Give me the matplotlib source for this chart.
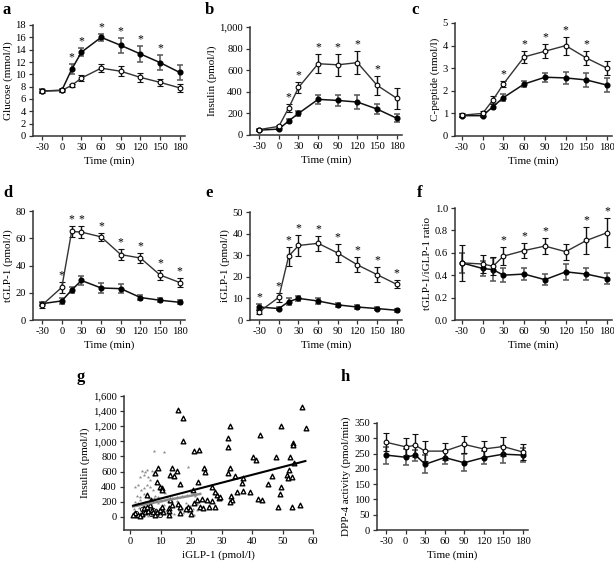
import matplotlib
matplotlib.use("Agg")
import matplotlib.pyplot as plt
from matplotlib.ticker import FuncFormatter

plt.rcParams["font.family"] = ["Liberation Serif", "DejaVu Serif"]
plt.rcParams["font.size"] = 7
plt.rcParams["axes.unicode_minus"] = False

times = [-30, 0, 15, 30, 60, 90, 120, 150, 180]
time_ticks = [-30, 0, 30, 60, 90, 120, 150, 180]

# a: glucose (mmol/l)
glu_filled = [7.3, 7.4, 10.8, 13.6, 16.0, 14.7, 13.3, 11.9, 10.3]
glu_filled_err = [0.3, 0.3, 0.8, 0.7, 0.6, 1.2, 1.3, 1.2, 1.2]
glu_open = [7.3, 7.4, 8.2, 9.4, 11.0, 10.5, 9.5, 8.7, 7.8]
glu_open_err = [0.3, 0.3, 0.3, 0.5, 0.6, 0.8, 0.7, 0.6, 0.6]
glu_stars = [15, 30, 60, 90, 120, 150]

# b: insulin (pmol/l)
ins_open = [50, 80, 250, 440, 660, 650, 670, 460, 340]
ins_open_err = [10, 15, 40, 50, 90, 100, 105, 90, 95]
ins_filled = [45, 55, 130, 200, 330, 320, 305, 240, 155]
ins_filled_err = [8, 10, 20, 20, 40, 50, 65, 50, 35]
ins_stars = [15, 30, 60, 90, 120, 150]

# c: C-peptide (nmol/l)
cp_open = [0.92, 1.0, 1.6, 2.3, 3.5, 3.75, 4.0, 3.45, 3.0]
cp_open_err = [0.08, 0.1, 0.18, 0.15, 0.25, 0.3, 0.4, 0.3, 0.3]
cp_filled = [0.9, 0.9, 1.3, 1.7, 2.3, 2.6, 2.57, 2.48, 2.25]
cp_filled_err = [0.07, 0.07, 0.12, 0.15, 0.12, 0.2, 0.28, 0.3, 0.3]
cp_stars = [30, 60, 90, 120, 150]

# d: tGLP-1 (pmol/l)
tglp_open = [11, 24, 65, 64.5, 61, 48, 45.5, 33, 27.5]
tglp_open_err = [2, 4, 4, 4.5, 3, 4, 4, 4, 3]
tglp_filled = [12, 14, 22, 29, 23.5, 23, 16.5, 14.5, 13]
tglp_filled_err = [1.5, 2, 2, 3, 4, 3.5, 2, 1.5, 1.5]
tglp_stars = [0, 15, 30, 60, 90, 120, 150, 180]

# e: iGLP-1 (pmol/l)
iglp_open = [3.8, 10.5, 29.5, 34.5, 35.5, 31, 25.5, 21, 16.5]
iglp_open_err = [1, 2, 4.5, 5, 3.5, 4, 3.5, 3.5, 1.8]
iglp_filled = [6, 5.3, 8.5, 10, 8.8, 7, 6, 5.3, 4.5]
iglp_filled_err = [1.5, 0.8, 1.5, 1, 1.5, 1, 1, 0.8, 0.8]
iglp_stars = [-30, 0, 15, 30, 60, 90, 120, 150, 180]

# f: tGLP-1/iGLP-1 ratio
ratio_open = [0.51, 0.50, 0.48, 0.57, 0.62, 0.66, 0.61, 0.71, 0.78]
ratio_open_err = [0.16, 0.08, 0.08, 0.08, 0.07, 0.07, 0.07, 0.12, 0.13]
ratio_filled = [0.51, 0.46, 0.45, 0.40, 0.41, 0.36, 0.43, 0.41, 0.37]
ratio_filled_err = [0.09, 0.07, 0.10, 0.06, 0.05, 0.05, 0.07, 0.05, 0.05]
ratio_stars = [30, 60, 90, 150, 180]

# h: DPP-4 activity (pmol/min)
dpp_open = [287, 272, 277, 258, 258, 280, 265, 273, 255]
dpp_open_err = [30, 28, 38, 33, 28, 27, 25, 32, 25]
dpp_filled = [245, 238, 245, 215, 237, 220, 237, 248, 245]
dpp_filled_err = [28, 27, 18, 30, 22, 27, 22, 28, 22]

# g: insulin vs iGLP-1 scatter
tri_x = [15.8, 17.2, 17.5, 21.0, 22.7, 9.0, 13.9, 15.5, 13.1, 14.4, 24.3, 24.6,
         8.2, 8.7, 9.8, 10.6, 10.4, 16.4, 22.4, 20.5, 26.8, 5.5, 6.8, 6.6, 13.1,
         13.7, 12.6, 12.9, 15.8, 16.4, 19.1, 19.7, 16.4, 12.6, 20.8, 22.1, 23.5,
         25.3, 26.8, 26.0, 23.0, 23.8, 18.4, 19.9, 27.9, 28.4, 29.0, 1.6, 2.7,
         3.8, 4.9, 4.4, 6.0, 7.1, 7.6, 8.7, 10.9, 8.2, 3.3, 1.1, 5.5, 9.8, 10.4,
         56.5, 57.6, 32.8, 49.5, 32.2, 42.6, 32.2, 53.3, 53.3, 40.4, 41.2, 47.9,
         52.6, 53.8, 32.8, 32.0, 52.1, 51.4, 51.7, 53.0, 46.5, 37.2, 36.8, 34.4,
         45.1, 49.5, 49.2, 39.3, 37.2, 35.0, 33.1, 33.3, 32.8, 42.1, 43.4, 27.9,
         29.5, 48.6, 53.0, 55.7]
tri_y = [1414, 1305, 1009, 873, 886, 652, 652, 608, 555, 542, 652, 599,
         578, 467, 401, 388, 357, 436, 467, 357, 401, 291, 225, 159, 225,
         159, 115, 83, 172, 136, 136, 106, 49, 26, 181, 225, 234,
         225, 212, 136, 136, 115, 102, 40, 136, 291, 247, 49, 26,
         40, 70, 115, 83, 93, 70, 70, 70, 26, 13, 26, 136, 93, 136,
         1460, 1181, 1207, 1207, 1049, 1084, 930, 974, 952, 797, 754, 797,
         797, 718, 644, 586, 621, 555, 511, 525, 542, 511, 445, 542,
         436, 401, 304, 334, 348, 334, 278, 225, 202, 234, 225, 334,
         260, 136, 136, 159]
dot_x = [8.0, 11.1, 19.1, 3.8, 4.9, 5.7, 7.1, 3.3, 4.4, 6.0, 7.6, 6.6, 1.6, 2.7,
         3.5, 5.5, 4.4, 6.6, 7.6, 11.5, 2.2, 3.3, 4.4, 6.3, 8.2, 9.3, 12.0, 13.7,
         15.3, 16.9, 18.6, 21.3, 1.5, 2.5, 3.2, 4.2, 5.0, 6.8, 7.8, 9.0, 10.2,
         11.2, 12.8, 14.2, 15.5, 17.0, 18.2, 19.5, 20.5, 21.8, 1.2, 2.0, 2.8,
         3.6, 4.6, 5.5, 6.5, 7.5, 8.5, 9.5, 10.5, 11.8, 13.0, 14.5, 16.0, 17.5,
         19.0, 20.8, 22.0, 1.8, 3.0, 6.0, 9.0, 12.5]
dot_y = [873, 864, 665, 608, 599, 621, 608, 533, 555, 525, 555, 489, 401, 423,
         357, 423, 379, 401, 357, 313, 282, 270, 300, 255, 280, 265, 270, 250,
         262, 280, 290, 275, 200, 180, 230, 150, 200, 170, 250, 190, 210,
         160, 200, 140, 210, 120, 190, 150, 110, 170, 110, 60, 120,
         80, 30, 90, 130, 40, 100, 50, 140, 80, 100, 40, 90, 50,
         60, 30, 90, 20, 10, 15, 10, 20]
circ_x = [2.0, 3.5, 5.2, 6.8, 8.3, 9.7, 4.0, 7.5]
circ_y = [50, 30, 60, 40, 80, 30, 110, 90]
fit_black_x = [1.0, 57.5]
fit_black_y = [150, 740]
fit_grey_x = [1.0, 23.0]
fit_grey_y = [140, 305]

W, H = 614, 563
fig = plt.figure(figsize=(W / 100, H / 100), dpi=100)


def add_axes(left, bottom, width, height):
    ax = fig.add_axes([left / W, bottom / H, width / W, height / H])
    for side in ("top", "right"):
        ax.spines[side].set_visible(False)
    for side in ("left", "bottom"):
        ax.spines[side].set_linewidth(1.1)
        ax.spines[side].set_color("#333333")
    ax.tick_params(direction="out", length=3, width=0.9, pad=2, labelsize=7.6,
                   color="#333333")
    return ax


comma = FuncFormatter(lambda v, p: f"{int(v):,}")


def time_panel(ax, open_v, open_e, filled_v, filled_e, stars, ylim, yticks,
               ylabel, xlim, fmt=None):
    ax.errorbar(times, filled_v, yerr=filled_e, color="#111111", lw=1.1,
                ecolor="#555555", elinewidth=1.1, capsize=2.5, capthick=1.1,
                marker="o", ms=3.4, mfc="black", mec="black", zorder=3)
    ax.errorbar(times, open_v, yerr=open_e, color="#333333", lw=1.0,
                ecolor="#111111", elinewidth=1.0, capsize=2.5, capthick=1.0,
                marker="o", ms=3.4, mfc="white", mec="black", mew=0.8, zorder=4)
    for t in stars:
        i = times.index(t)
        top = max(open_v[i] + open_e[i], filled_v[i] + filled_e[i])
        ax.annotate("*", (t, top), xytext=(0, 0.5), textcoords="offset points",
                    ha="center", va="bottom", fontsize=8.5)
    ax.set_xlim(*xlim)
    ax.set_ylim(*ylim)
    ax.set_xticks(time_ticks)
    ax.set_yticks(yticks)
    if fmt is not None:
        ax.yaxis.set_major_formatter(fmt)
    ax.set_xlabel("Time (min)", fontsize=8, labelpad=3)
    ax.set_ylabel(ylabel, fontsize=8, labelpad=2)


xl_a = (-44, 188)
xl_c = (-40, 187)

ax = add_axes(33, 427, 152, 111)
time_panel(ax, glu_open, glu_open_err, glu_filled, glu_filled_err, glu_stars,
           (0, 18), range(0, 19, 2), "Glucose (mmol/l)", xl_a)

ax = add_axes(250, 428, 152, 108)
time_panel(ax, ins_open, ins_open_err, ins_filled, ins_filled_err, ins_stars,
           (0, 1000), range(0, 1001, 200), "Insulin (pmol/l)", xl_a, comma)

ax = add_axes(455, 427, 157, 113)
time_panel(ax, cp_open, cp_open_err, cp_filled, cp_filled_err, cp_stars,
           (0, 5), range(0, 6), "C-peptide (nmol/l)", xl_c)

ax = add_axes(33, 243, 152, 109)
time_panel(ax, tglp_open, tglp_open_err, tglp_filled, tglp_filled_err, tglp_stars,
           (0, 80), range(0, 81, 20), "tGLP-1 (pmol/l)", xl_a)

ax = add_axes(250, 243, 152, 108)
time_panel(ax, iglp_open, iglp_open_err, iglp_filled, iglp_filled_err, iglp_stars,
           (0, 50), range(0, 51, 10), "iGLP-1 (pmol/l)", xl_a)

ax = add_axes(455, 243, 157, 112)
time_panel(ax, ratio_open, ratio_open_err, ratio_filled, ratio_filled_err,
           ratio_stars, (0, 1.0), [0, 0.2, 0.4, 0.6, 0.8, 1.0],
           "tGLP-1/iGLP-1 ratio", xl_c, FuncFormatter(lambda v, p: f"{v:.1f}"))

ax = add_axes(377, 33, 151, 107)
time_panel(ax, dpp_open, dpp_open_err, dpp_filled, dpp_filled_err, [],
           (0, 350), range(0, 351, 50), "DPP-4 activity (pmol/min)", xl_a)

# g: scatter
ax = add_axes(124, 33, 189, 134)
ax.scatter(dot_x, dot_y, s=7, marker="*", color="#8a8a8a", linewidths=0, zorder=2)
ax.scatter(circ_x, circ_y, s=9, marker="o", facecolors="white",
           edgecolors="black", linewidths=0.6, zorder=3)
ax.scatter(tri_x, tri_y, s=11, marker="^", facecolors="white",
           edgecolors="black", linewidths=1.0, zorder=3)
ax.plot(fit_grey_x, fit_grey_y, color="#8a8a8a", lw=1.8, zorder=4)
ax.plot(fit_black_x, fit_black_y, color="black", lw=1.5, zorder=5)
ax.set_xlim(-2, 60)
ax.set_ylim(-172, 1600)
ax.set_xticks(range(0, 61, 10))
ax.set_yticks(range(0, 1601, 200))
ax.yaxis.set_major_formatter(comma)
ax.set_xlabel("iGLP-1 (pmol/l)", fontsize=8, labelpad=3)
ax.set_ylabel("Insulin (pmol/l)", fontsize=8, labelpad=2)

labels = [("a", 3, 14), ("b", 205, 14), ("c", 411, 14), ("d", 3, 197),
          ("e", 205, 197), ("f", 417, 197), ("g", 77, 381), ("h", 341, 381)]
for text, x, y in labels:
    fig.text(x / W, 1 - y / H, text, fontsize=12, fontweight="bold",
             ha="left", va="baseline")

fig.savefig("out.png", dpi=100)
plt.close(fig)
